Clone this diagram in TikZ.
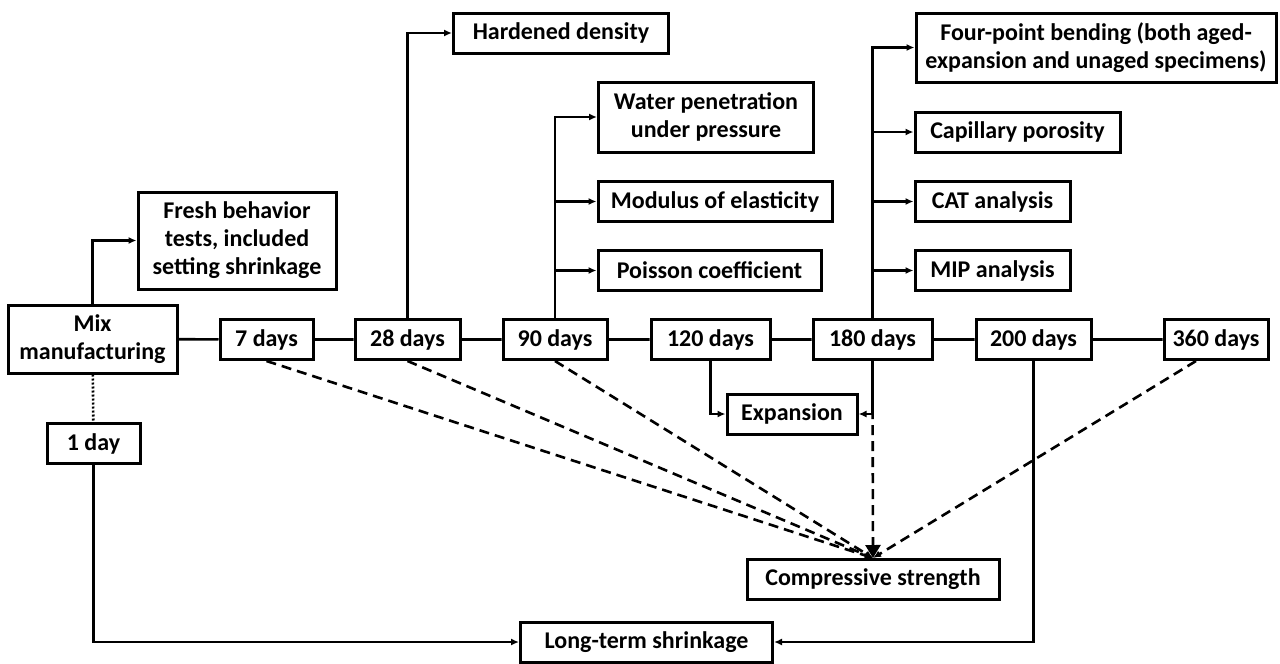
\documentclass[tikz,border=0pt]{standalone}
\usepackage{fontspec}
\setmainfont{Carlito}
\usetikzlibrary{arrows.meta}
\begin{document}
\begin{tikzpicture}[x=1pt, y=-1pt, >={Latex[length=8pt,width=7pt]},
  box/.style={draw, line width=3pt, align=center, inner xsep=3pt, inner ysep=0pt,
    minimum height=40pt, font=\bfseries\fontsize{24}{28}\selectfont},
  link/.style={line width=2.6pt},
  dashlink/.style={line width=2.6pt, dash pattern=on 10pt off 6pt}]

  \useasboundingbox (0,0) rectangle (1280,664);

  % time line
  \node[box, minimum width=169, minimum height=68] (mix) at (92.5,339) {Mix\\manufacturing};
  \node[box, minimum width=93]  (d7)   at (266.5,339.5) {7 days};
  \node[box, minimum width=105] (d28)  at (407.5,339.5) {28 days};
  \node[box, minimum width=104] (d90)  at (555,339.5)   {90 days};
  \node[box, minimum width=119] (d120) at (710.5,339.5) {120 days};
  \node[box, minimum width=119] (d180) at (872.5,339.5) {180 days};
  \node[box, minimum width=115] (d200) at (1033.5,339.5) {200 days};
  \node[box, minimum width=104] (d360) at (1216,339.5)  {360 days};
  \node[box, minimum width=93]  (d1)   at (93.5,443.5)  {1 day};

  % tests
  \node[box, minimum width=198, minimum height=97] (fresh) at (237,240.5)
    {Fresh behavior\\tests, included\\setting shrinkage};
  \node[box, minimum width=215] (hard) at (561,33) {Hardened density};
  \node[box, minimum width=215, minimum height=70] (water) at (706,117)
    {Water penetration\\under pressure};
  \node[box, minimum width=234] (modulus) at (715,201.5) {Modulus of elasticity};
  \node[box, minimum width=223] (poisson) at (709.5,270.5) {Poisson coefficient};
  \node[box, minimum width=360, minimum height=69] (bending) at (1096,47.5)
    {Four-point bending (both aged-\\expansion and unaged specimens)};
  \node[box, minimum width=205] (capil) at (1017.5,132) {Capillary porosity};
  \node[box, minimum width=155] (cat) at (992.5,201.5) {CAT analysis};
  \node[box, minimum width=155] (mip) at (992.5,270.5) {MIP analysis};
  \node[box, minimum width=130] (expan) at (792,414) {Expansion};
  \node[box, minimum width=252] (comp) at (873,579.5) {Compressive strength};
  \node[box, minimum width=252] (longterm) at (646.5,642) {Long-term shrinkage};

  % solid connectors
  \draw[link] (mix) -- (d7) -- (d28) -- (d90) -- (d120) -- (d180) -- (d200) -- (d360);
  \draw[link, ->] (mix.north) |- (fresh.west);
  \draw[link, ->] (d28.north) |- (hard.west);
  \foreach \t in {water, modulus, poisson}
    \draw[link, ->] (d90.north) |- (\t.west);
  \foreach \t in {bending, capil, cat, mip}
    \draw[link, ->] (d180.north) |- (\t.west);
  \draw[link, ->] (d120.south) |- (expan.west);
  \draw[link, ->] (d180.south) |- (expan.east);
  \draw[link, dash pattern=on 2pt off 2pt] (mix) -- (d1);
  \draw[link, ->] (d1.south) |- (longterm.west);
  \draw[link, ->] (d200.south) |- (longterm.east);

  % compressive strength tests
  \foreach \d in {d7, d28, d90}
    \draw[dashlink, ->] (\d.south) -- (comp.north);
  \draw[dashlink, ->] ([xshift=-20pt]d360.south) -- (comp.north);
  \draw[dashlink, -{Triangle[length=13pt, width=15pt]}] (d180.south) -- (comp.north);

\end{tikzpicture}
\end{document}
